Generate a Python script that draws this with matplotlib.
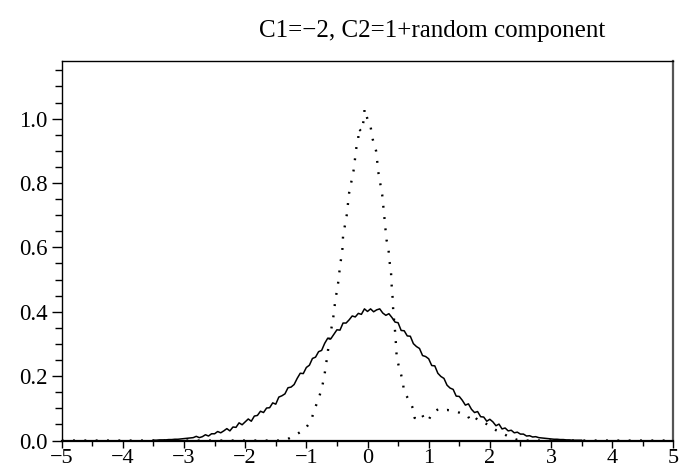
import numpy as np
import matplotlib
matplotlib.use("Agg")
import matplotlib.pyplot as plt
from matplotlib.ticker import MultipleLocator

solid_x_start = -3.5
solid_x_step = 0.05
solid_y = [
    .001, .001, .002, .002, .002, .003, .003, .004, .004, .005,
    .006, .007, .008, .009, .013, .009, .012, .018, .014, .021,
    .021, .028, .024, .030, .037, .030, .042, .041, .055, .049,
    .058, .067, .060, .076, .078, .091, .087, .101, .102, .117,
    .113, .135, .139, .145, .164, .166, .174, .193, .209, .208,
    .227, .234, .255, .259, .276, .280, .302, .318, .316, .330,
    .344, .343, .365, .365, .375, .387, .384, .395, .392, .409,
    .401,
    .409, .400, .406, .409, .396, .389, .394, .382, .368, .366,
    .342, .341, .325, .324, .301, .292, .286, .264, .261, .254,
    .233, .232, .209, .199, .193, .172, .163, .159, .138, .137,
    .125, .110, .114, .097, .087, .090, .074, .073, .060, .066,
    .058, .046, .051, .036, .039, .030, .032, .024, .026, .020,
    .020, .014, .015, .011, .012, .009, .008, .007, .006, .005,
    .004, .004, .003, .003, .002, .002, .001, .001, .001, .001,
]

# dotted curve: sharp peak near 0 with a small bump around 1.3
dotted_x = [-5.0, -1.40, -1.30, -1.16, -1.02, -0.92, -0.875, -0.80, -0.74, -0.70,
            -0.66, -0.625, -0.56, -0.53, -0.48, -0.45, -0.41, -0.40, -0.34, -0.30,
            -0.23, -0.205, -0.18, -0.15, -0.15, -0.10, -0.05, -0.05, 0.013, 0.052,
            0.085, 0.14, 0.18, 0.24, 0.275, 0.31, 0.34, 0.36, 0.385, 0.395,
            0.41, 0.42, 0.45, 0.465, 0.477, 0.51, 0.548, 0.585, 0.59, 0.667,
            0.71, 0.765, 0.77, 0.83, 0.886, 0.94, 0.995, 1.05, 1.10, 1.16,
            1.21, 1.30, 1.38, 1.46, 1.52, 1.64, 1.68, 1.76, 1.81, 1.89,
            2.00, 2.11, 2.22, 2.33, 2.45, 2.60, 5.0]
dotted_y = [0.0, 0.0, 0.005, 0.019, 0.036, 0.062, 0.093, 0.129, 0.168, 0.208,
            0.26, 0.31, 0.382, 0.43, 0.49, 0.54, 0.596, 0.635, 0.70, 0.77,
            0.836, 0.874, 0.913, 0.93, 0.97, 0.96, 1.006, 1.03, 0.99, 0.973,
            0.936, 0.90, 0.83, 0.764, 0.695, 0.624, 0.60, 0.557, 0.52, 0.482,
            0.444, 0.406, 0.34, 0.30, 0.261, 0.232, 0.206, 0.175, 0.155, 0.129,
            0.114, 0.09, 0.07, 0.072, 0.083, 0.062, 0.062, 0.083, 0.09, 0.098,
            0.093, 0.095, 0.093, 0.09, 0.085, 0.077, 0.062, 0.072, 0.062, 0.057,
            0.046, 0.031, 0.021, 0.01, 0.002, 0.0, 0.0]

title = "C1=\u22122, C2=1+random component"

plt.rcParams['font.family'] = ['Liberation Serif', 'DejaVu Serif']

solid_x = solid_x_start + solid_x_step * np.arange(len(solid_y))

fig = plt.figure(figsize=(6.94, 4.76), dpi=100)
ax = fig.add_axes([0.0889, 0.0745, 0.8813, 0.798])

ax.plot(solid_x, solid_y, color='black', lw=1.1)
ax.plot(dotted_x, dotted_y, color='black', lw=1.7, linestyle=(0, (0.8, 4.0)))

ax.set_xlim(-5, 5)
ax.set_ylim(0, 1.18)

ax.xaxis.set_major_locator(MultipleLocator(1))
ax.xaxis.set_minor_locator(MultipleLocator(0.5))
ax.yaxis.set_major_locator(MultipleLocator(0.2))
ax.yaxis.set_minor_locator(MultipleLocator(0.05))
ax.yaxis.set_major_formatter(plt.FormatStrFormatter('%.1f'))

ax.tick_params(axis='both', which='both', direction='out', top=False, right=False,
               width=1.0, colors='black')
ax.tick_params(axis='y', which='major', length=7, pad=3, labelsize=16.5)
ax.tick_params(axis='y', which='minor', length=5)
ax.tick_params(axis='x', which='major', length=5, pad=1, labelsize=16)
ax.tick_params(axis='x', which='minor', length=3.5)

for side in ['left', 'top']:
    ax.spines[side].set_linewidth(1.0)
ax.spines['bottom'].set_linewidth(1.6)
ax.spines['right'].set_linewidth(1.6)
ax.spines['right'].set_color('#555555')

fig.text(0.6225, 0.922, title, ha='center', va='baseline', fontsize=18)

fig.savefig('out.png', dpi=100)
